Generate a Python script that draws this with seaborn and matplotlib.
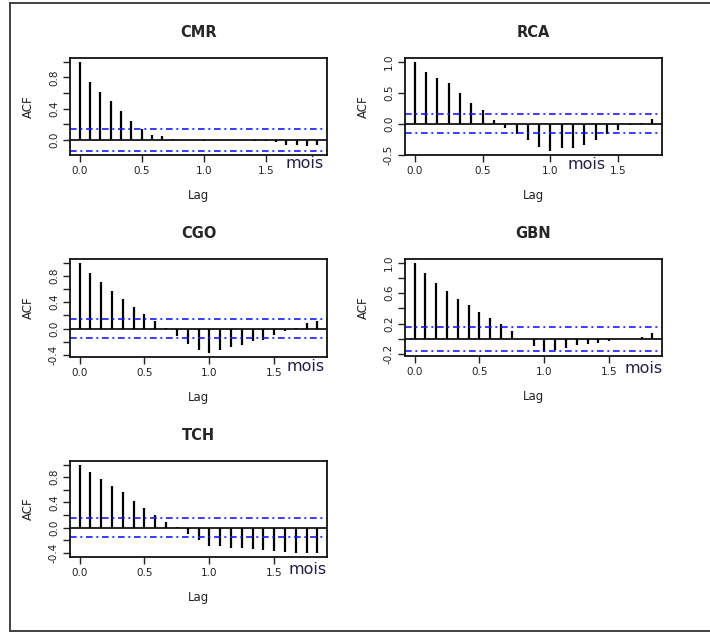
import numpy as np
import pandas as pd
import matplotlib
matplotlib.use("Agg")
import matplotlib.pyplot as plt
from matplotlib.lines import Line2D
import seaborn as sns

sns.set_theme(style="white")
plt.rcParams["font.family"] = ["DejaVu Sans"]

# Sample autocorrelations (lag in months, plotted in years) for each station
stations = ["CMR", "RCA", "CGO", "GBN", "TCH"]

acf_cmr = [1.0, 0.736, 0.606, 0.498, 0.368, 0.238, 0.143, 0.065, 0.048, 0.01,
           0.005, -0.005, -0.008, -0.004, 0.003, 0.006, 0.002, -0.006, -0.01,
           -0.03, -0.065, -0.065, -0.078, -0.065]
acf_rca = [1.0, 0.836, 0.738, 0.656, 0.49, 0.333, 0.219, 0.055, -0.066, -0.164,
           -0.26, -0.37, -0.448, -0.39, -0.39, -0.35, -0.26, -0.164, -0.11,
           -0.03, 0.005, 0.077]
acf_cgo = [1.0, 0.84, 0.71, 0.577, 0.444, 0.332, 0.22, 0.112, 0.005, -0.117,
           -0.23, -0.32, -0.377, -0.32, -0.286, -0.245, -0.184, -0.168, -0.092,
           -0.04, 0.005, 0.087, 0.112]
acf_gbn = [1.0, 0.868, 0.735, 0.625, 0.523, 0.439, 0.359, 0.279, 0.195, 0.097,
           0.005, -0.097, -0.177, -0.15, -0.115, -0.084, -0.066, -0.053, -0.031,
           -0.005, 0.005, 0.031, 0.08]
acf_tch = [1.0, 0.877, 0.773, 0.658, 0.564, 0.428, 0.308, 0.198, 0.089, 0.005,
           -0.099, -0.193, -0.298, -0.298, -0.319, -0.319, -0.334, -0.35, -0.37,
           -0.39, -0.41, -0.41, -0.41]

# 95% confidence bounds (+/-)
ci_bounds = [0.145, 0.158, 0.148, 0.153, 0.145]

# y ticks and which of them carry labels
yticks_all = [
    [0.0, 0.2, 0.4, 0.6, 0.8, 1.0],
    [-0.5, 0.0, 0.5, 1.0],
    [-0.4, -0.2, 0.0, 0.2, 0.4, 0.6, 0.8, 1.0],
    [-0.2, 0.0, 0.2, 0.4, 0.6, 0.8, 1.0],
    [-0.4, -0.2, 0.0, 0.2, 0.4, 0.6, 0.8, 1.0],
]
ytick_labels = [
    ["0.0", "", "0.4", "", "0.8", ""],
    ["-0.5", "0.0", "0.5", "1.0"],
    ["-0.4", "", "0.0", "", "0.4", "", "0.8", ""],
    ["-0.2", "", "0.2", "", "0.6", "", "1.0"],
    ["-0.4", "", "0.0", "", "0.4", "", "0.8", ""],
]
xticks = [0.0, 0.5, 1.0, 1.5]
xtick_labels = ["0.0", "0.5", "1.0", "1.5"]
unit_label = "mois"

acfs = [acf_cmr, acf_rca, acf_cgo, acf_gbn, acf_tch]

frames = []
for name, vals in zip(stations, acfs):
    frames.append(pd.DataFrame({"station": name,
                                "lag": np.arange(len(vals)) / 12.0,
                                "acf": vals}))
df = pd.concat(frames, ignore_index=True)

W, H = 710, 632
fig = plt.figure(figsize=(W / 100, H / 100), dpi=100)

# panel boxes in pixels: left, top, right, bottom
boxes = [(70, 58, 327, 155), (405, 58, 662, 155),
         (70, 259, 327, 357), (405, 259, 662, 356),
         (70, 461, 327, 557)]
# position of the unit label in axes fraction
unit_pos = [(0.914, -0.085), (0.708, -0.095), (0.918, -0.10),
            (0.93, -0.125), (0.926, -0.135)]

for i, name in enumerate(stations):
    l, t, r, b = boxes[i]
    ax = fig.add_axes([l / W, 1 - b / H, (r - l) / W, (b - t) / H])
    d = df[df["station"] == name]
    ci = ci_bounds[i]

    ax.vlines(d["lag"], 0, d["acf"], color="black", lw=1.6)
    ax.axhline(0, color="black", lw=1.2)
    for s in (ci, -ci):
        ax.axhline(s, color="#1a1aff", lw=1.2, dashes=(4, 2.2, 1.2, 2.2))

    lo = min(d["acf"].min(), -ci)
    hi = max(d["acf"].max(), ci)
    pad = 0.04 * (hi - lo)
    ax.set_ylim(lo - pad, hi + pad)
    xmax = d["lag"].max()
    ax.set_xlim(-0.04 * xmax, xmax * 1.04)

    ax.set_xticks(xticks)
    ax.set_xticklabels(xtick_labels)
    ax.set_yticks(yticks_all[i])
    ax.set_yticklabels(ytick_labels[i], rotation=90, va="center")

    ax.tick_params(axis="both", which="major", direction="out", length=5,
                   width=1, color="#222222", labelsize=7.5,
                   labelcolor="#222222", bottom=True, left=True, pad=3)
    for sp in ax.spines.values():
        sp.set_color("#111111")
        sp.set_linewidth(1.3)
        sp.set_visible(True)
    ax.grid(False)

    ax.set_title(name, fontsize=10.5, fontweight="bold", pad=15)
    ax.set_xlabel("Lag", fontsize=8.5, color="#222222", labelpad=9)
    ax.set_ylabel("ACF", fontsize=8.5, color="#222222", labelpad=10)

    ux, uy = unit_pos[i]
    ax.text(ux, uy, unit_label, transform=ax.transAxes, ha="center",
            va="center", fontsize=11.5, color="#251e45", clip_on=False)

# outer frame (left, top and bottom edges)
frame_kw = dict(color="#333333", lw=1.3, transform=fig.transFigure)
fig.add_artist(Line2D([10 / W, 10 / W], [1 - 3 / H, 1 - 631 / H], **frame_kw))
fig.add_artist(Line2D([10 / W, 1.0], [1 - 3 / H, 1 - 3 / H], **frame_kw))
fig.add_artist(Line2D([10 / W, 1.0], [1 - 631 / H, 1 - 631 / H], **frame_kw))

fig.savefig("out.png", dpi=100, facecolor="white")
